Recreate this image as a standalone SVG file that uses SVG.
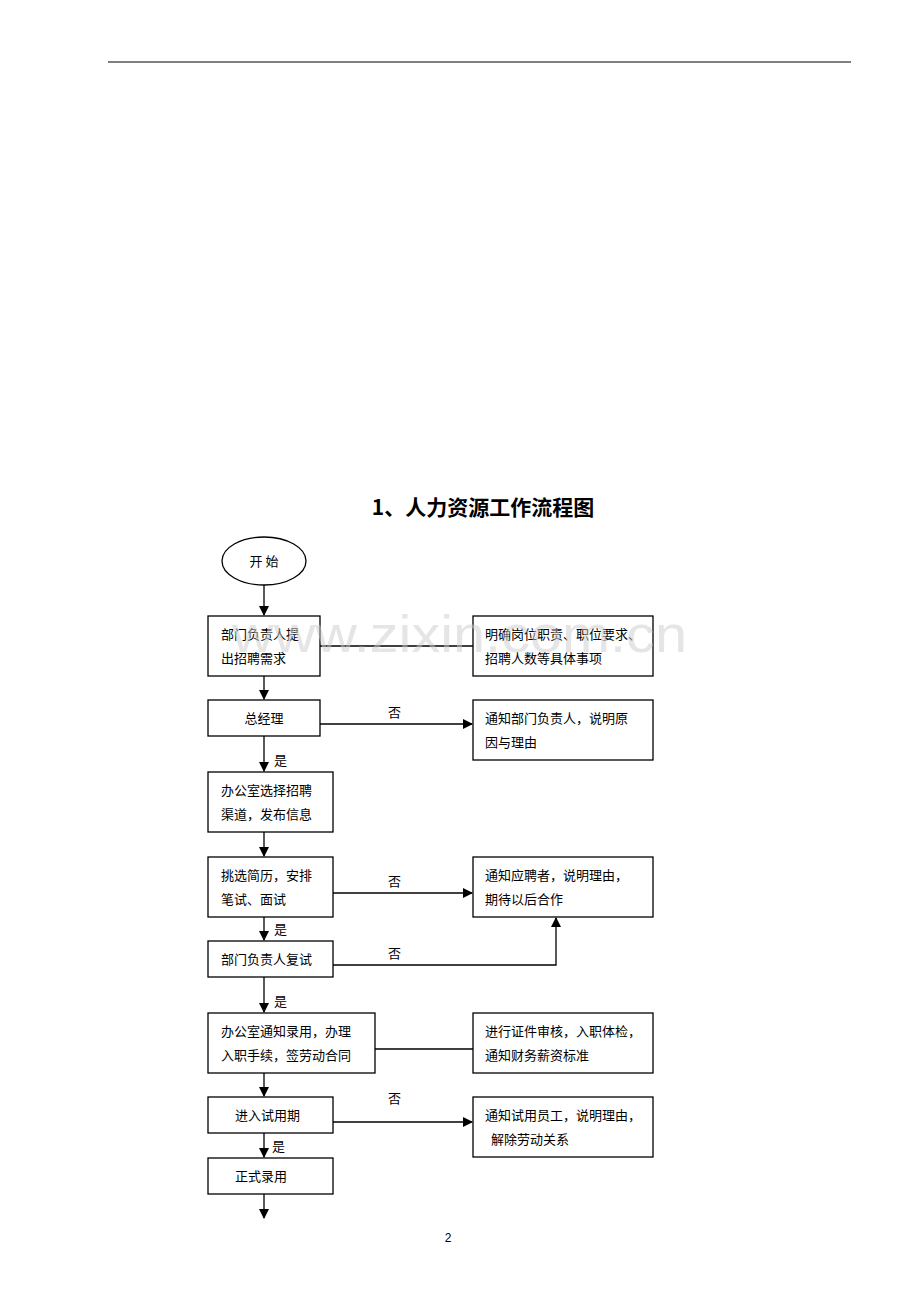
<svg xmlns="http://www.w3.org/2000/svg" width="920" height="1302" viewBox="0 0 920 1302">
<style>
.b{fill:#fff;stroke:#000;stroke-width:1.3}
.t{font-family:"Noto Sans CJK SC","Liberation Serif",serif;font-size:13px;fill:#000}
.c{stroke:#000;stroke-width:1.3;fill:none}
</style>
<defs><marker id="a" markerWidth="10" markerHeight="10" refX="9" refY="5" orient="auto" markerUnits="userSpaceOnUse"><path d="M0,0 L10,5 L0,10 z" fill="#000"/></marker></defs>
<rect width="920" height="1302" fill="#fff"/>
<line x1="108" y1="62" x2="851" y2="62" stroke="#000" stroke-width="1"/>
<text x="483" y="515" text-anchor="middle" font-family="Noto Sans CJK SC,sans-serif" font-size="21" font-weight="bold">1、人力资源工作流程图</text>
<g id="start"><ellipse class="b" cx="264" cy="561" rx="42" ry="24"/><text class="t" x="264" y="566" text-anchor="middle">开 始</text></g>
<g id="n1"><rect class="b" x="208" y="616" width="112" height="60"/><text class="t" x="221" y="639">部门负责人提</text><text class="t" x="221" y="663">出招聘需求</text></g>
<g id="r1"><rect class="b" x="473" y="616" width="180" height="60"/><text class="t" x="485" y="639">明确岗位职责、职位要求、</text><text class="t" x="485" y="663">招聘人数等具体事项</text></g>
<g id="n2"><rect class="b" x="208" y="700" width="112" height="36"/><text class="t" x="264" y="723" text-anchor="middle">总经理</text></g>
<g id="r2"><rect class="b" x="473" y="700" width="180" height="60"/><text class="t" x="485" y="723">通知部门负责人，说明原</text><text class="t" x="485" y="747">因与理由</text></g>
<g id="n3"><rect class="b" x="208" y="772" width="125" height="60"/><text class="t" x="221" y="795">办公室选择招聘</text><text class="t" x="221" y="819">渠道，发布信息</text></g>
<g id="n4"><rect class="b" x="208" y="857" width="125" height="60"/><text class="t" x="221" y="880">挑选简历，安排</text><text class="t" x="221" y="904">笔试、面试</text></g>
<g id="r3"><rect class="b" x="473" y="857" width="180" height="60"/><text class="t" x="485" y="880">通知应聘者，说明理由，</text><text class="t" x="485" y="904">期待以后合作</text></g>
<g id="n5"><rect class="b" x="208" y="941" width="125" height="36"/><text class="t" x="221" y="964">部门负责人复试</text></g>
<g id="n6"><rect class="b" x="208" y="1013" width="167" height="60"/><text class="t" x="221" y="1036">办公室通知录用，办理</text><text class="t" x="221" y="1060">入职手续，签劳动合同</text></g>
<g id="r4"><rect class="b" x="473" y="1013" width="180" height="60"/><text class="t" x="485" y="1036">进行证件审核，入职体检，</text><text class="t" x="485" y="1060">通知财务薪资标准</text></g>
<g id="n7"><rect class="b" x="208" y="1097" width="125" height="36"/><text class="t" x="235" y="1120">进入试用期</text></g>
<g id="r5"><rect class="b" x="473" y="1097" width="180" height="60"/><text class="t" x="485" y="1120">通知试用员工，说明理由，</text><text class="t" x="491" y="1144">解除劳动关系</text></g>
<g id="n8"><rect class="b" x="208" y="1158" width="125" height="36"/><text class="t" x="235" y="1181">正式录用</text></g>
<g id="connectors">
<line class="c" x1="264" y1="585" x2="264" y2="615" marker-end="url(#a)"/>
<line class="c" x1="320" y1="646" x2="473" y2="646"/>
<line class="c" x1="264" y1="676" x2="264" y2="699" marker-end="url(#a)"/>
<line class="c" x1="320" y1="724" x2="472" y2="724" marker-end="url(#a)"/>
<line class="c" x1="264" y1="736" x2="264" y2="771" marker-end="url(#a)"/>
<line class="c" x1="264" y1="832" x2="264" y2="856" marker-end="url(#a)"/>
<line class="c" x1="333" y1="893" x2="472" y2="893" marker-end="url(#a)"/>
<line class="c" x1="264" y1="917" x2="264" y2="940" marker-end="url(#a)"/>
<polyline class="c" points="333,965 556,965 556,918" marker-end="url(#a)"/>
<line class="c" x1="264" y1="977" x2="264" y2="1012" marker-end="url(#a)"/>
<line class="c" x1="375" y1="1049" x2="473" y2="1049"/>
<line class="c" x1="264" y1="1073" x2="264" y2="1096" marker-end="url(#a)"/>
<line class="c" x1="333" y1="1122" x2="472" y2="1122" marker-end="url(#a)"/>
<line class="c" x1="264" y1="1133" x2="264" y2="1157" marker-end="url(#a)"/>
<line class="c" x1="264" y1="1194" x2="264" y2="1218" marker-end="url(#a)"/>
<text class="t" x="388" y="717">否</text>
<text class="t" x="274" y="765">是</text>
<text class="t" x="388" y="886">否</text>
<text class="t" x="274" y="934">是</text>
<text class="t" x="388" y="958">否</text>
<text class="t" x="274" y="1006">是</text>
<text class="t" x="388" y="1103">否</text>
<text class="t" x="272" y="1151">是</text>
</g>
<text x="232" y="652" textLength="455" lengthAdjust="spacingAndGlyphs" font-family="Liberation Sans,sans-serif" font-size="52" fill="#cccccc" fill-opacity="0.5">www.zixin.com.cn</text>
<text x="448" y="1242" text-anchor="middle" font-family="Liberation Sans,sans-serif" font-size="12">2</text>
</svg>
